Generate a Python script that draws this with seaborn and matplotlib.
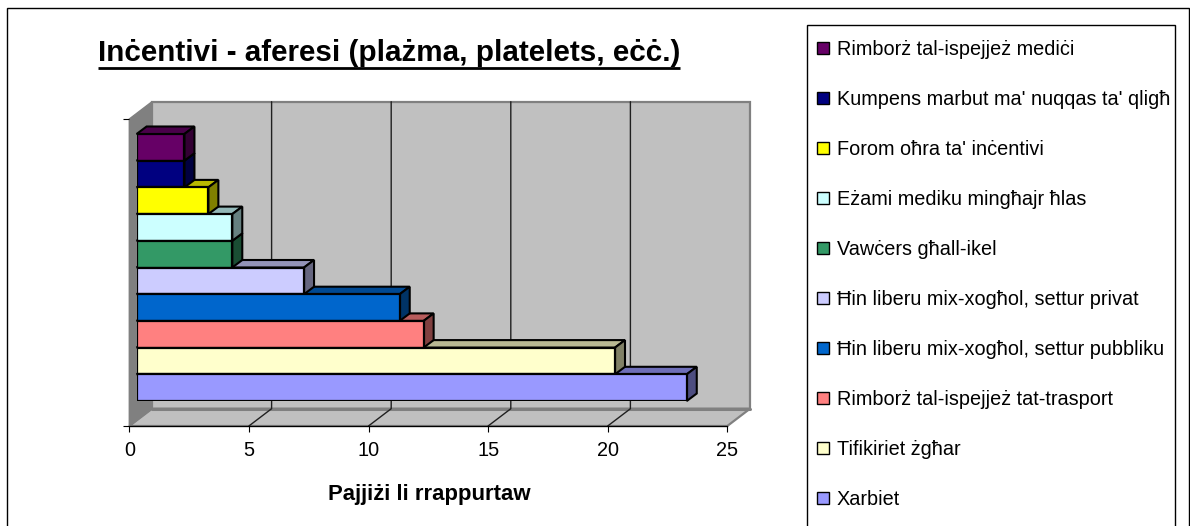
import matplotlib
matplotlib.use("Agg")
import matplotlib.pyplot as plt
from matplotlib.patches import Polygon, Rectangle
from matplotlib.lines import Line2D
import seaborn as sns
import pandas as pd
import numpy as np
from matplotlib.colors import to_rgb

sns.set_theme(style="white")
plt.rcParams['font.family'] = ['Liberation Sans', 'DejaVu Sans']

categories = ["Rimborż tal-ispejjeż mediċi", "Kumpens marbut ma' nuqqas ta' qligħ",
              "Forom oħra ta' inċentivi", "Eżami mediku mingħajr ħlas", "Vawċers għall-ikel",
              "Ħin liberu mix-xogħol, settur privat", "Ħin liberu mix-xogħol, settur pubbliku",
              "Rimborż tal-ispejjeż tat-trasport", "Tifikiriet żgħar", "Xarbiet"]
values = [2, 2, 3, 4, 4, 7, 11, 12, 20, 23]
colors = ["#660066", "#000080", "#FFFF00", "#CCFFFF", "#339966",
          "#CCCCFF", "#0066CC", "#FF8080", "#FFFFCC", "#9999FF"]
x_ticks = [0, 5, 10, 15, 20, 25]
title = "Inċentivi - aferesi (plażma, platelets, eċċ.)"
x_label = "Pajjiżi li rrappurtaw"

W, H = 1190, 526
fig = plt.figure(figsize=(W / 100, H / 100), dpi=100, facecolor="white")

def axrect(l, t, r, b):
    return [l / W, 1 - b / H, (r - l) / W, (b - t) / H]

def P(x, y):
    return (x / W, 1 - y / H)

def box(l, t, r, b, z, lw=1.0):
    fig.add_artist(Rectangle(P(l, b), (r - l) / W, (b - t) / H, transform=fig.transFigure,
                             fc="white", ec="black", lw=lw, zorder=z, clip_on=True))

# frame of the chart and of the legend, both run past the lower edge
box(7, 8, 1189, 566, -5)
box(806.5, 25, 1174.5, 566, 0.5)

# floor-plane axes: holds x scale, ticks, label
ax = fig.add_axes(axrect(129.3, 119, 727.3, 426))
ax.patch.set_visible(False)
ax.set_xlim(0, 25)
ax.set_ylim(0, 1)
ax.set_xticks(x_ticks)
ax.set_yticks([0, 1])
ax.set_yticklabels([])
ax.tick_params(axis="x", bottom=True, length=4.5, width=0.8, color="black", pad=6,
               labelsize=14.3, labelcolor="black")
ax.tick_params(axis="y", left=True, length=4.5, width=0.8, color="black")
for s in ("top", "right", "left"):
    ax.spines[s].set_visible(False)
ax.spines["bottom"].set_color("black")
ax.spines["bottom"].set_linewidth(0.9)
ax.set_xlabel(x_label, fontsize=15.9, fontweight="bold", color="black", va="center")
ax.xaxis.set_label_coords(0.501, -0.2215)
ax.set_zorder(2)

DX, DY = 22.7, 17.3
L, R, B, T = 129.3, 727.3, 426, 119
grey = "#808080"
wall = "#C0C0C0"
def poly(pts, fc, ec=grey, lw=1.0, z=1):
    fig.add_artist(Polygon([P(*p) for p in pts], closed=True, transform=fig.transFigure,
                           fc=fc, ec=ec, lw=lw, zorder=z, joinstyle="miter"))
poly([(L + DX, T - DY), (R + DX, T - DY), (R + DX, B - DY), (L + DX, B - DY)], wall, lw=1.6)
poly([(L, B), (R, B), (R + DX, B - DY), (L + DX, B - DY)], wall, lw=1.6)
poly([(L, T), (L + DX, T - DY), (L + DX, B - DY), (L, B)], grey, lw=1.0)
fig.add_artist(Line2D([P(L + DX, B - DY)[0], P(R + DX, B - DY)[0]], [P(0, B - DY)[1]] * 2,
                      transform=fig.transFigure, color=grey, lw=2.2, zorder=1.1))
for v in x_ticks[1:-1]:
    xpx = ax.transData.transform((v, 0))[0]
    fig.add_artist(Line2D([P(xpx, 0)[0], P(xpx + DX, 0)[0], P(xpx + DX, 0)[0]],
                          [P(0, B)[1], P(0, B - DY)[1], P(0, T - DY)[1]],
                          transform=fig.transFigure, color="#202020", lw=1.0, zorder=1.2))

# bars
BL = 136.6
ax_bar = fig.add_axes(axrect(BL, 134, BL + (R - L), 401))
ax_bar.patch.set_visible(False)
df = pd.DataFrame({"cat": categories, "val": values})
sns.barplot(data=df, y="cat", x="val", hue="cat", hue_order=categories, palette=colors,
            dodge=False, width=1.0, saturation=1, edgecolor="black", linewidth=1.6,
            legend=True, ax=ax_bar, zorder=5)
ax_bar.set_xlim(0, 25)
ax_bar.set_ylim(9.5, -0.5)
ax_bar.axis("off")
ax_bar.set_zorder(3)
fig.canvas.draw()

bdx, bdy = 10.0, 7.5
bars = [p for p in ax_bar.patches if p.get_width() > 0]
bars = sorted(bars, key=lambda p: p.get_y(), reverse=True)
for i, p in enumerate(bars):
    (x0, y0) = ax_bar.transData.transform((p.get_x(), p.get_y()))
    (x1, y1) = ax_bar.transData.transform((p.get_x() + p.get_width(), p.get_y() + p.get_height()))
    top, bot = min(H - y0, H - y1), max(H - y0, H - y1)
    c = np.array(to_rgb(p.get_facecolor()[:3]))
    z = 1.5 + i * 0.01
    poly([(x0, top), (x1, top), (x1 + bdx, top - bdy), (x0 + bdx, top - bdy)], tuple(c * 0.72),
         ec="black", lw=1.5, z=z)
    poly([(x1, top), (x1 + bdx, top - bdy), (x1 + bdx, bot - bdy), (x1, bot)], tuple(c * 0.5),
         ec="black", lw=1.5, z=z)

# title
t = fig.text(98 / W, 1 - 53 / H, title, fontsize=21.3, fontweight="bold", color="black",
             ha="left", va="center")
fig.canvas.draw()
bb = t.get_window_extent()
fig.add_artist(Line2D([bb.x0 / W, bb.x1 / W], [1 - 67.5 / H] * 2, transform=fig.transFigure,
                      color="black", lw=2.0, solid_capstyle="butt"))

# legend
handles, labels = ax_bar.get_legend_handles_labels()
ax_bar.get_legend().remove()
fs = 14.3
leg = fig.legend(handles, labels, loc="upper left", bbox_to_anchor=(817 / W, 1 - 40 / H),
                 bbox_transform=fig.transFigure, borderaxespad=0, frameon=False,
                 fontsize=fs, labelspacing=1.56, handlelength=0.6, handleheight=0.6,
                 handletextpad=0.4, borderpad=0, labelcolor="black")
leg.set_zorder(10)
for h in leg.legend_handles:
    h.set_linewidth(1.0)

fig.savefig("out.png", dpi=100)
